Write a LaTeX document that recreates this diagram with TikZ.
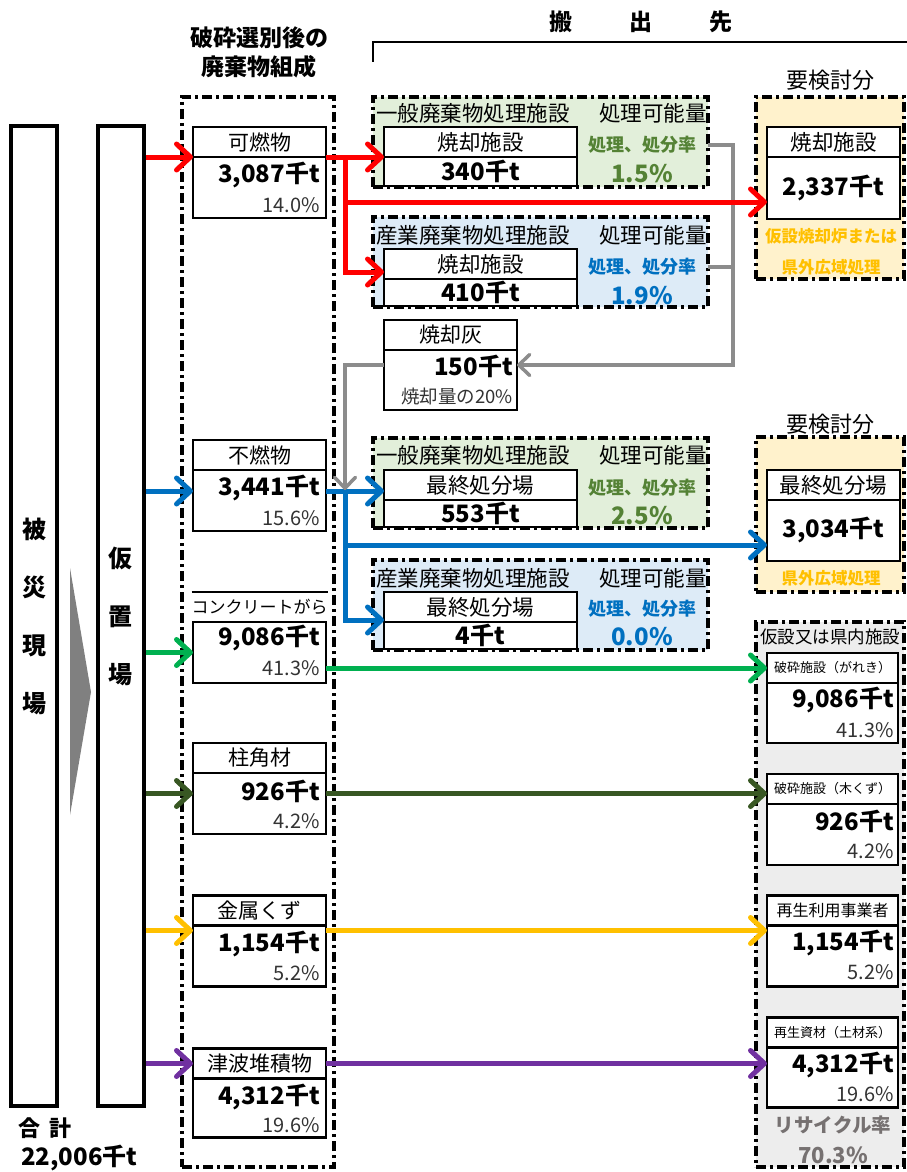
\documentclass[tikz,border=0pt]{standalone}
\usepackage{fontspec}
\setmainfont{Noto Sans CJK JP}
\usetikzlibrary{arrows.meta,positioning}

\definecolor{flowred}{RGB}{255,0,0}
\definecolor{flowblue}{RGB}{0,112,192}
\definecolor{flowgreen}{RGB}{0,176,80}
\definecolor{flowolive}{RGB}{56,87,35}
\definecolor{flowamber}{RGB}{255,192,0}
\definecolor{flowpurple}{RGB}{112,48,160}
\definecolor{ashgray}{RGB}{140,140,140}
\definecolor{fillgreen}{RGB}{226,239,218}
\definecolor{fillblue}{RGB}{221,235,247}
\definecolor{fillamber}{RGB}{255,242,204}
\definecolor{fillgray}{RGB}{237,237,237}
\definecolor{txtgreen}{RGB}{84,130,53}
\definecolor{txtgray}{RGB}{118,113,113}

\begin{document}
\begin{tikzpicture}[
  x=1pt, y=-1pt,
  frame/.style={
    draw,
    line width=4pt,
    dash pattern=on 10pt off 4pt on 3pt off 4pt,
    inner sep=0pt,
    outer sep=0pt
  },
  site/.style={
    draw,
    line width=4pt,
    minimum width=46,
    minimum height=980,
    inner sep=0pt,
    align=center,
    font=\fontsize{24}{58}\selectfont\bfseries
  },
  hdr/.style={
    draw,
    fill=white,
    line width=2.2pt,
    minimum width=133,
    minimum height=30,
    inner sep=0pt,
    outer sep=0pt,
    font=\fontsize{21}{23}\selectfont
  },
  body/.style={
    draw,
    fill=white,
    line width=2.2pt,
    minimum width=133,
    minimum height=61,
    inner sep=0pt,
    outer sep=0pt
  },
  qty/.style={inner sep=0pt, font=\fontsize{24}{26}\selectfont\bfseries},
  ratio/.style={inner sep=0pt, font=\fontsize{20}{22}\selectfont, text=black!80},
  title/.style={inner sep=0pt, font=\fontsize{21.5}{24}\selectfont},
  rate/.style={inner sep=0pt, font=\fontsize{18}{20}\selectfont\bfseries},
  ratev/.style={inner sep=0pt, font=\fontsize{24}{26}\selectfont\bfseries},
  note/.style={inner sep=0pt, font=\fontsize{16.5}{18}\selectfont\bfseries, text=flowamber},
  flow/.style={
    line width=5pt,
    -{Straight Barb[length=14pt,width=26pt,round]}
  },
  ashflow/.style={
    draw=ashgray,
    line width=3.5pt,
    -{Straight Barb[length=11pt,width=21pt,round]}
  },
  ashline/.style={draw=ashgray, line width=3.5pt}
]
\useasboundingbox (0,0) rectangle (907,1172);

% Sites
\node[site] (hisai)   at (34,616)    {被\\災\\現\\場};
\node[site] (karioki) at (120.5,616) {仮\\置\\場};
\fill[black!50] (70,568) -- (91,692) -- (70,815) -- cycle;

\node[inner sep=0pt, font=\fontsize{22}{24}\selectfont\bfseries] (totlab) at (45,1128) {合\hspace{10pt}計};
\node[inner sep=0pt, anchor=west, font=\fontsize{24}{26}\selectfont\bfseries] (totval) at (21,1158) {22,006千t};

% Composition column
\node[frame, minimum width=152, minimum height=1070] (compfrm) at (258,632) {};
\node[align=center, font=\fontsize{23}{29}\selectfont\bfseries] (comphead) at (259,52) {破砕選別後の\\廃棄物組成};

\node[hdr] (kanen) at (259.5,142) {可燃物};
\node[body, below=0pt of kanen] (kanenv) {};
\node[qty, anchor=east]   (kanenq) at ([xshift=-6pt,yshift=-18pt]kanenv.north east) {3,087千t};
\node[ratio, anchor=east] (kanenr) at ([xshift=-6pt,yshift=-48pt]kanenv.north east) {14.0\%};

\node[hdr] (funen) at (259.5,455) {不燃物};
\node[body, below=0pt of funen] (funenv) {};
\node[qty, anchor=east]   (funenq) at ([xshift=-6pt,yshift=-18pt]funenv.north east) {3,441千t};
\node[ratio, anchor=east] (funenr) at ([xshift=-6pt,yshift=-48pt]funenv.north east) {15.6\%};

\node[hdr, draw=none, fill=none, font=\fontsize{17}{19}\selectfont] (conc) at (259.5,607) {コンクリートがら};
\draw[line width=2.2pt] (conc.north west) -- (conc.north east);
\node[body, below=0pt of conc] (concv) {};
\node[qty, anchor=east]   (concq) at ([xshift=-6pt,yshift=-16pt]concv.north east) {9,086千t};
\node[ratio, anchor=east] (concr) at ([xshift=-6pt,yshift=-46pt]concv.north east) {41.3\%};

\node[hdr] (hashira) at (259.5,758) {柱角材};
\node[body, below=0pt of hashira] (hashirav) {};
\node[qty, anchor=east]   (hashiraq) at ([xshift=-6pt,yshift=-18pt]hashirav.north east) {926千t};
\node[ratio, anchor=east] (hashirar) at ([xshift=-6pt,yshift=-48pt]hashirav.north east) {4.2\%};

\node[hdr] (kinzoku) at (259.5,910.5) {金属くず};
\node[body, below=0pt of kinzoku] (kinzokuv) {};
\node[qty, anchor=east]   (kinzokuq) at ([xshift=-6pt,yshift=-18pt]kinzokuv.north east) {1,154千t};
\node[ratio, anchor=east] (kinzokur) at ([xshift=-6pt,yshift=-48pt]kinzokuv.north east) {5.2\%};

\node[hdr] (tsunami) at (259.5,1063.5) {津波堆積物};
\node[body, below=0pt of tsunami, minimum height=59] (tsunamiv) {};
\node[qty, anchor=east]   (tsunamiq) at ([xshift=-6pt,yshift=-18pt]tsunamiv.north east) {4,312千t};
\node[ratio, anchor=east] (tsunamir) at ([xshift=-6pt,yshift=-47pt]tsunamiv.north east) {19.6\%};

% Destinations
\node[inner sep=0pt, font=\fontsize{23}{25}\selectfont\bfseries] (desthead) at (641,22) {搬\hspace{57pt}出\hspace{57pt}先};
\draw[line width=1.6pt] (373,62) -- (373,42) -- (907,42);

% General / industrial facilities
\node[frame, fill=fillgreen, minimum width=335, minimum height=90] (gfrm1) at (540.5,142) {};
\node[frame, fill=fillblue,  minimum width=335, minimum height=90] (sfrm2) at (540.5,262) {};
\node[frame, fill=fillgreen, minimum width=335, minimum height=90] (gfrm3) at (540.5,483) {};
\node[frame, fill=fillblue,  minimum width=335, minimum height=90] (sfrm4) at (540.5,605) {};

\node[title, anchor=west] (gfrm1t) at ([xshift=3pt,yshift=-16pt]gfrm1.north west) {一般廃棄物処理施設};
\node[title, anchor=east] (gfrm1c) at ([xshift=-1pt,yshift=-16pt]gfrm1.north east) {処理可能量};
\node[title, anchor=west] (sfrm2t) at ([xshift=3pt,yshift=-18pt]sfrm2.north west) {産業廃棄物処理施設};
\node[title, anchor=east] (sfrm2c) at ([xshift=-1pt,yshift=-18pt]sfrm2.north east) {処理可能量};
\node[title, anchor=west] (gfrm3t) at ([xshift=3pt,yshift=-17pt]gfrm3.north west) {一般廃棄物処理施設};
\node[title, anchor=east] (gfrm3c) at ([xshift=-1pt,yshift=-17pt]gfrm3.north east) {処理可能量};
\node[title, anchor=west] (sfrm4t) at ([xshift=3pt,yshift=-18pt]sfrm4.north west) {産業廃棄物処理施設};
\node[title, anchor=east] (sfrm4c) at ([xshift=-1pt,yshift=-18pt]sfrm4.north east) {処理可能量};

\node[hdr, minimum width=193, font=\fontsize{21.5}{24}\selectfont] (ginc) at (480.5,142) {焼却施設};
\node[body, minimum width=193, minimum height=29, below=0pt of ginc] (gincv) {};
\node[qty] (gincq) at (gincv) {340千t};
\node[rate, text=txtgreen]  (gincr) at (642,145) {処理、処分率};
\node[ratev, text=txtgreen] (gincp) at (642,174) {1.5\%};

\node[hdr, minimum width=193, font=\fontsize{21.5}{24}\selectfont] (sinc) at (480.5,264) {焼却施設};
\node[body, minimum width=193, minimum height=27, below=0pt of sinc] (sincv) {};
\node[qty] (sincq) at (sincv) {410千t};
\node[rate, text=flowblue]  (sincr) at (642,267) {処理、処分率};
\node[ratev, text=flowblue] (sincp) at (642,296) {1.9\%};

\node[hdr, minimum width=193, font=\fontsize{21.5}{24}\selectfont] (gland) at (480.5,485) {最終処分場};
\node[body, minimum width=193, minimum height=27, below=0pt of gland] (glandv) {};
\node[qty] (glandq) at (glandv) {553千t};
\node[rate, text=txtgreen]  (glandr) at (642,488) {処理、処分率};
\node[ratev, text=txtgreen] (glandp) at (642,516) {2.5\%};

\node[hdr, minimum width=193, font=\fontsize{21.5}{24}\selectfont] (sland) at (480.5,607) {最終処分場};
\node[body, minimum width=193, minimum height=27, below=0pt of sland] (slandv) {};
\node[qty] (slandq) at (slandv) {4千t};
\node[rate, text=flowblue]  (slandr) at (642,609) {処理、処分率};
\node[ratev, text=flowblue] (slandp) at (642,637) {0.0\%};

% Incineration ash
\node[hdr, minimum width=133, font=\fontsize{21}{24}\selectfont] (ash) at (450.5,335) {焼却灰};
\node[body, minimum height=60, below=0pt of ash] (ashv) {};
\node[qty, anchor=east]   (ashq) at ([xshift=-4pt,yshift=-16pt]ashv.north east) {150千t};
\node[ratio, anchor=east, font=\fontsize{18.5}{20}\selectfont] (ashr) at ([xshift=-4pt,yshift=-46pt]ashv.north east) {焼却量の20\%};

% Items to examine
\node[inner sep=0pt, font=\fontsize{22}{24}\selectfont] (xinclab) at (830,80) {要検討分};
\node[frame, fill=fillamber, minimum width=148, minimum height=182] (xfrm1) at (830,188) {};
\node[hdr, font=\fontsize{21.5}{24}\selectfont] (xinc) at (833.5,142) {焼却施設};
\node[body, minimum height=62, below=0pt of xinc] (xincv) {};
\node[qty] (xincq) at (xincv) {2,337千t};
\node[note] (xincn1) at (831,236) {仮設焼却炉または};
\node[note] (xincn2) at (831,267) {県外広域処理};

\node[inner sep=0pt, font=\fontsize{22}{24}\selectfont] (xlandlab) at (830,424) {要検討分};
\node[frame, fill=fillamber, minimum width=148, minimum height=155] (xfrm2) at (830,514.5) {};
\node[hdr, font=\fontsize{21.5}{24}\selectfont] (xland) at (833.5,485) {最終処分場};
\node[body, below=0pt of xland] (xlandv) {};
\node[qty] (xlandq) at (xlandv) {3,034千t};
\node[note] (xlandn) at (831,578) {県外広域処理};

% Temporary or in-prefecture facilities
\node[frame, fill=fillgray, minimum width=148, minimum height=545] (pfrm) at (830,894.5) {};
\node[inner sep=0pt, font=\fontsize{17.5}{20}\selectfont] (pfrmt) at (830,637) {仮設又は県内施設};

\node[hdr, minimum width=131, font=\fontsize{13}{15}\selectfont] (crush1) at (832.5,668) {破砕施設（がれき）};
\node[body, minimum width=131, minimum height=60, below=0pt of crush1] (crush1v) {};
\node[qty, anchor=east]   (crush1q) at ([xshift=-4pt,yshift=-17pt]crush1v.north east) {9,086千t};
\node[ratio, anchor=east] (crush1r) at ([xshift=-4pt,yshift=-47pt]crush1v.north east) {41.3\%};

\node[hdr, minimum width=131, font=\fontsize{13}{15}\selectfont] (crush2) at (832.5,789) {破砕施設（木くず）};
\node[body, minimum width=131, below=0pt of crush2] (crush2v) {};
\node[qty, anchor=east]   (crush2q) at ([xshift=-4pt,yshift=-17pt]crush2v.north east) {926千t};
\node[ratio, anchor=east] (crush2r) at ([xshift=-4pt,yshift=-47pt]crush2v.north east) {4.2\%};

\node[hdr, minimum width=131, font=\fontsize{16}{18}\selectfont] (reuse) at (832.5,910.5) {再生利用事業者};
\node[body, minimum width=131, below=0pt of reuse] (reusev) {};
\node[qty, anchor=east]   (reuseq) at ([xshift=-4pt,yshift=-17pt]reusev.north east) {1,154千t};
\node[ratio, anchor=east] (reuser) at ([xshift=-4pt,yshift=-47pt]reusev.north east) {5.2\%};

\node[hdr, minimum width=131, font=\fontsize{13}{15}\selectfont] (soil) at (832.5,1032.5) {再生資材（土材系）};
\node[body, minimum width=131, minimum height=60, below=0pt of soil] (soilv) {};
\node[qty, anchor=east]   (soilq) at ([xshift=-4pt,yshift=-17pt]soilv.north east) {4,312千t};
\node[ratio, anchor=east] (soilr) at ([xshift=-4pt,yshift=-47pt]soilv.north east) {19.6\%};

\node[inner sep=0pt, text=txtgray, font=\fontsize{19.5}{22}\selectfont\bfseries] (rcyl) at (833,1125) {リサイクル率};
\node[inner sep=0pt, text=txtgray, font=\fontsize{22}{24}\selectfont\bfseries] (rcyv) at (833,1155) {70.3\%};

% Ash flows
\coordinate (ashtop) at (733,145);
\coordinate (ashmid) at (733,267);
\coordinate (ashin) at ([yshift=-15pt]ashv.north east);
\draw[ashline] (sfrm2.east |- ashmid) -- (ashmid);
\draw[ashflow] (gfrm1.east |- ashtop) -- (ashtop) |- (ashin);

% Combustibles
\coordinate (rsplit) at (345,157);
\coordinate (rmid) at (345,202);
\draw[flow, flowred] (karioki.east |- kanen.south) -- (kanen.south west);
\draw[flow, flowred] (kanen.south east) -- (ginc.south west);
\draw[flow, flowred] (rsplit) |- ([yshift=-8pt]sinc.west);
\draw[flow, flowred] (rmid) -- (rmid -| xincv.west);

% Incombustibles
\coordinate (bsplit) at (345,491);
\coordinate (bmid) at (345,545);
\draw[flow, flowblue] (karioki.east |- bsplit) -- (bsplit -| funenv.west);
\draw[flow, flowblue] (funenv.east |- bsplit) -- (bsplit -| gland.west);
\draw[flow, flowblue] (bsplit) |- ([yshift=2pt]sland.south west);
\draw[flow, flowblue] (bmid) -- (bmid -| xlandv.west);
\draw[ashflow] (ashin -| ashv.west) -| ([yshift=1pt]bsplit);

% Recycled streams
\coordinate (olivey) at ([yshift=10pt]hashirav.west);
\coordinate (ambery) at ([yshift=-5pt]kinzokuv.north west);
\draw[flow, flowgreen]  (karioki.east |- concv.west) -- (concv.west);
\draw[flow, flowgreen]  (concv.east |- crush1.west) -- (crush1.west);
\draw[flow, flowolive]  (karioki.east |- olivey) -- (olivey);
\draw[flow, flowolive]  (hashirav.east |- olivey) -- (olivey -| crush2.west);
\draw[flow, flowamber]  (karioki.east |- ambery) -- (ambery);
\draw[flow, flowamber]  (kinzokuv.east |- ambery) -- (ambery -| reusev.west);
\draw[flow, flowpurple] (karioki.east |- tsunami.west) -- (tsunami.west);
\draw[flow, flowpurple] (tsunami.east) -- (tsunami.east -| soilv.west);

\end{tikzpicture}
\end{document}
